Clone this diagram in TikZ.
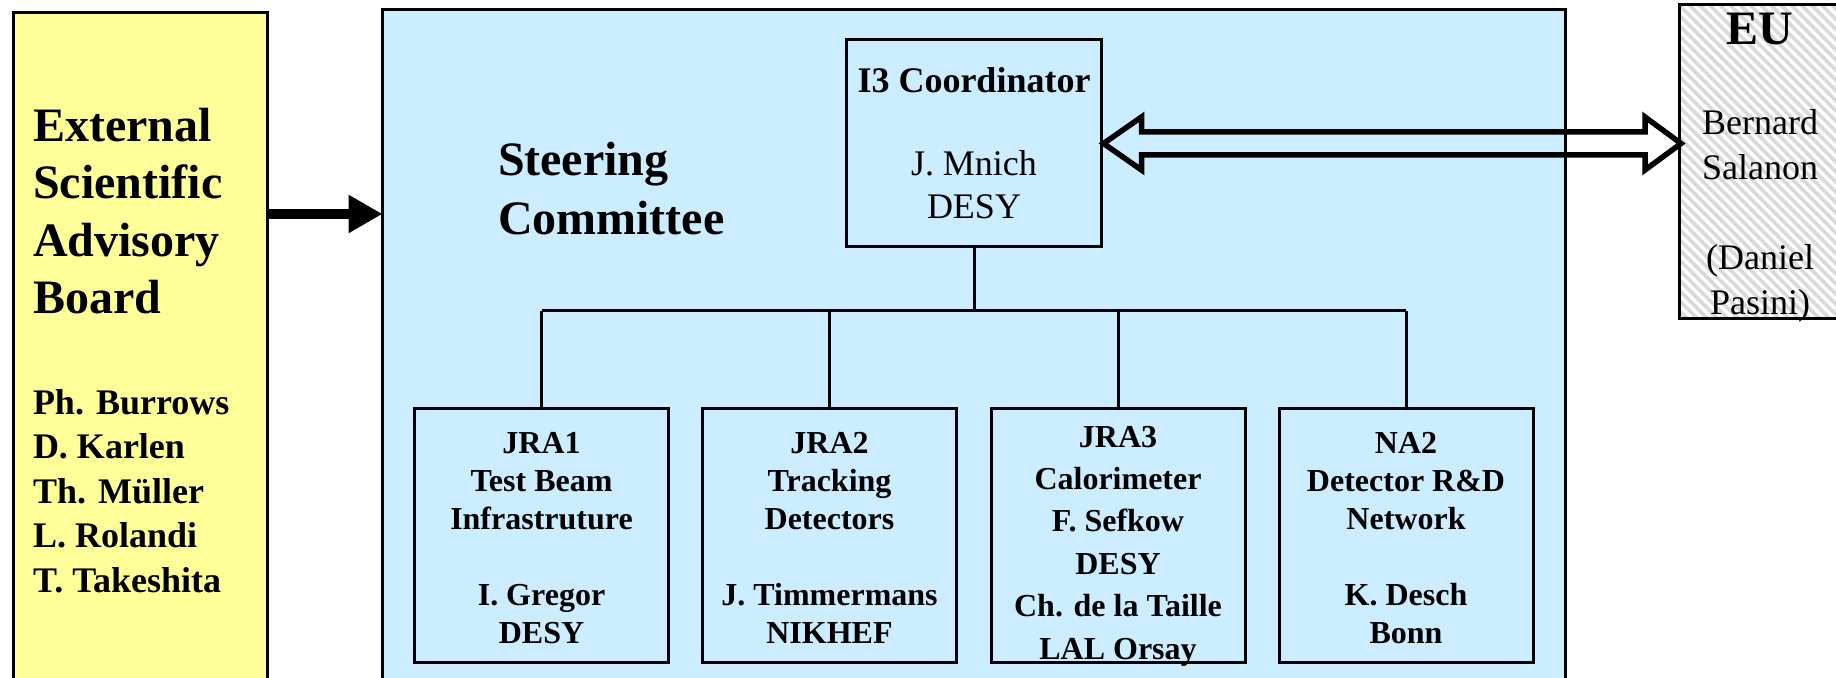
\documentclass[tikz,border=0pt]{standalone}
\usepackage{fontspec}
\setmainfont{Liberation Serif}
\usetikzlibrary{arrows.meta,patterns.meta,calc}
\definecolor{sky}{HTML}{CCECFF}
\definecolor{lemon}{HTML}{FFFF99}
\definecolor{hatch}{HTML}{D9D9D9}
\begin{document}
\begin{tikzpicture}[x=0.5pt,y=-0.5pt,
  frame/.style={draw=black,line width=1.5pt,inner sep=0pt,outer sep=0pt},
  wpbox/.style={frame,fill=sky,minimum width=127pt,minimum height=127pt},
  wptext/.style={inner sep=0pt,outer sep=0pt,align=center,font=\fontsize{16}{19}\selectfont\bfseries},
  plain/.style={inner sep=0pt,outer sep=0pt},
  tree/.style={line width=1.5pt},
  hollow/.style={line width=2.75pt,line join=miter,miter limit=10}]
\useasboundingbox (0,0) rectangle (1836,678);
\clip (0,0) rectangle (1836,678);
\fill[white] (0,0) rectangle (1836,678);

% big boxes
\node[frame,fill=lemon,minimum width=127pt,minimum height=344pt] (esab) at (140.5,357) {};
\node[frame,fill=sky,minimum width=591.5pt,minimum height=346pt] (sc) at (974,356) {};
\node[frame,fill=white,pattern={Lines[angle=-45,distance=3.6pt,line width=1.8pt]},pattern color=hatch,
      minimum width=83pt,minimum height=157pt] (eu) at (1762,161.5) {};

% texts of the big boxes
\node[plain,anchor=west,align=left,font=\fontsize{24}{28.7}\selectfont\bfseries] (esabtitle) at (33,211)
  {External\\Scientific\\Advisory\\Board};
\node[plain,anchor=west,align=left,font=\fontsize{18}{22.25}\selectfont\bfseries] (esabnames) at (33,491)
  {Ph. Burrows\\D. Karlen\\Th. M\"uller\\L. Rolandi\\T. Takeshita};
\node[plain,anchor=west,align=left,font=\fontsize{24}{29.5}\selectfont\bfseries] (steer) at (498,188.5)
  {Steering\\Committee};
\node[plain,font=\fontsize{24}{28}\selectfont\bfseries] (eutitle) at (1760,29) {EU};
\node[plain,align=center,font=\fontsize{18}{22.5}\selectfont] (eunames) at (1760,216)
  {Bernard\\Salanon\\[22.5pt](Daniel\\Pasini)};

% coordinator
\node[frame,fill=sky,minimum width=127.5pt,minimum height=103.5pt,align=center,
      font=\fontsize{18}{21.5}\selectfont] (i3) at (974,143)
  {\textbf{I3 Coordinator}\\[20pt]J. Mnich\\DESY};

% work packages
\node[wpbox] (jra1) at (541.5,535.5) {};
\node[wpbox] (jra2) at (829.5,535.5) {};
\node[wpbox] (jra3) at (1118,535.5) {};
\node[wpbox] (na2) at (1406,535.5) {};
\node[wptext] (jra1t) at (541.5,538) {JRA1\\Test Beam\\Infrastruture\\[19pt]I. Gregor\\DESY};
\node[wptext] (jra2t) at (829.5,538) {JRA2\\Tracking\\Detectors\\[19pt]J. Timmermans\\NIKHEF};
\node[wptext,font=\fontsize{16}{21.2}\selectfont\bfseries] (jra3t) at (1118,546)
  {JRA3\\Calorimeter\\F. Sefkow\\DESY\\Ch. de la Taille\\LAL Orsay};
\node[wptext] (na2t) at (1406,538) {NA2\\Detector R\&D\\Network\\[19pt]K. Desch\\Bonn};

% tree
\coordinate (bar) at (0,311);
\draw[tree] (i3.south) -- (i3.south |- bar);
\draw[tree] (jra1.north |- bar) -- (na2.north |- bar);
\foreach \n in {jra1,jra2,jra3,na2} \draw[tree] (\n.north) -- (\n.north |- bar);

% advisory arrow
\coordinate (ay) at (0,214);
\draw[line width=5pt,-{Triangle[length=17pt,width=18pt]}] (esab.east |- ay) -- (sc.west |- ay);

% hollow double arrow
\coordinate (dy) at (0,143.5);
\draw[hollow] ($(i3.east |- dy)+(2,0)$) -- ++(38,-26.5) -- ++(0,15) --
  ($(eu.west |- dy)+(-34,-11.5)$) -- ++(0,-15) -- ($(eu.west |- dy)+(2,0)$) --
  ++(-36,26.5) -- ++(0,-15) -- ($(i3.east |- dy)+(40,11.5)$) -- ++(0,15) -- cycle;
\end{tikzpicture}
\end{document}
